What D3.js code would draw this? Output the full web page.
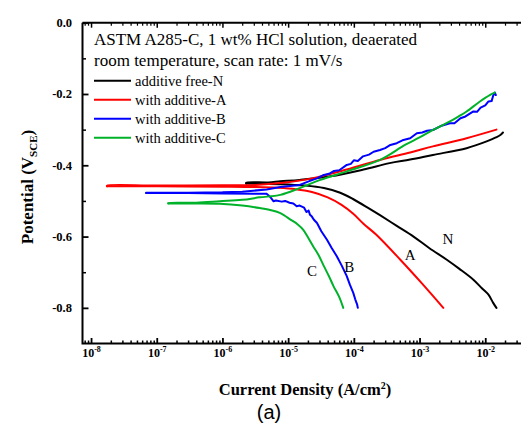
<!DOCTYPE html>
<html><head><meta charset="utf-8">
<script src="https://cdn.jsdelivr.net/npm/d3@7"></script>
<style>
html,body{margin:0;padding:0;background:#fff;}
svg{display:block;}
</style></head>
<body>
<svg id="chart" width="521" height="423"></svg>
<script>
// ---- data (current density in A/cm2, potential in V vs SCE) ----
const seriesNames = ["additive free-N", "with additive-A", "with additive-B", "with additive-C"];
const seriesColors = ["#000000", "#ff0000", "#0000ff", "#00b22a"];
const seriesSmooth = [true, true, false, true];
const curveLabels = ["N", "A", "B", "C"];
const labelCurrent = [2.7e-3, 7.2e-4, 8.5e-5, 2.3e-5];
const labelPotential = [-0.606, -0.653, -0.685, -0.696];

const nCurrent = [1.48e-2,1.32e-2,1.12e-2,8.9e-3,6.6e-3,4.0e-3,2.6e-3,1.4e-3,8.1e-4,4.5e-4,2.5e-4,1.6e-4,1.0e-4,6.2e-5,3.5e-5,1.8e-5,8.0e-6,4.0e-6,2.3e-6,
  2.3e-6,5.0e-6,7.6e-6,1.5e-5,4.4e-5,1.4e-4,3.5e-4,7.2e-4,1.6e-3,5.2e-3,1.05e-2,1.45e-2,1.7e-2,1.86e-2];
const nPotential = [-0.800,-0.786,-0.763,-0.745,-0.721,-0.690,-0.665,-0.632,-0.600,-0.570,-0.540,-0.518,-0.496,-0.477,-0.464,-0.457,-0.453,-0.452,-0.451,
  -0.449,-0.448,-0.445,-0.441,-0.431,-0.412,-0.394,-0.384,-0.371,-0.352,-0.333,-0.322,-0.315,-0.308];

const aCurrent = [2.3e-3,1.07e-3,5.1e-4,2.2e-4,1.4e-4,9.8e-5,6.5e-5,4.0e-5,2.3e-5,1.3e-5,7.0e-6,3.2e-6,1.0e-6,1.0e-7,1.75e-8,
  1.75e-8,1.0e-7,1.0e-6,3.2e-6,7.6e-6,2.4e-5,7.8e-5,2.5e-4,7.2e-4,1.6e-3,5.2e-3,1.48e-2];
const aPotential = [-0.800,-0.730,-0.665,-0.595,-0.564,-0.536,-0.511,-0.490,-0.475,-0.467,-0.463,-0.461,-0.460,-0.459,-0.459,
  -0.457,-0.457,-0.456,-0.455,-0.450,-0.436,-0.412,-0.385,-0.364,-0.347,-0.324,-0.300];

const bCurrent = [1.15e-4,1.12e-4,1.05e-4,9.8e-5,8.7e-5,7.8e-5,6.6e-5,5.5e-5,4.6e-5,3.9e-5,3.2e-5,2.75e-5,2.45e-5,2.3e-5,2.15e-5,2.05e-5,1.9e-5,1.75e-5,1.5e-5,1.35e-5,1.2e-5,1.05e-5,9.0e-6,8.0e-6,6.5e-6,6.0e-6,5.3e-6,4.7e-6,3.0e-6,1.0e-6,3.0e-7,6.9e-8,
  6.9e-8,3.0e-7,1.0e-6,2.0e-6,4.7e-6,7.6e-6,1.5e-5,2.2e-5,2.8e-5,3.5e-5,4.2e-5,5.0e-5,6.0e-5,7.8e-5,9.0e-5,1.0e-4,1.15e-4,1.38e-4,1.7e-4,2.0e-4,2.5e-4,3.0e-4,3.6e-4,4.5e-4,5.5e-4,7.2e-4,9.1e-4,1.1e-3,1.3e-3,1.6e-3,2.1e-3,2.9e-3,3.4e-3,4.2e-3,5.0e-3,6.6e-3,7.5e-3,8.5e-3,1.0e-2,1.12e-2,1.25e-2,1.32e-2,1.4e-2,1.45e-2];
const bPotential = [-0.800,-0.790,-0.776,-0.758,-0.735,-0.711,-0.683,-0.655,-0.632,-0.609,-0.585,-0.562,-0.552,-0.544,-0.539,-0.527,-0.531,-0.519,-0.513,-0.515,-0.507,-0.505,-0.500,-0.502,-0.499,-0.501,-0.488,-0.480,-0.480,-0.479,-0.478,-0.478,
  -0.477,-0.477,-0.476,-0.474,-0.468,-0.461,-0.455,-0.443,-0.436,-0.427,-0.424,-0.416,-0.414,-0.399,-0.396,-0.386,-0.388,-0.375,-0.370,-0.362,-0.357,-0.352,-0.343,-0.338,-0.330,-0.324,-0.310,-0.308,-0.303,-0.301,-0.290,-0.282,-0.282,-0.268,-0.263,-0.249,-0.250,-0.238,-0.232,-0.221,-0.220,-0.205,-0.196,-0.203];

const cCurrent = [6.9e-5,6.0e-5,4.9e-5,4.2e-5,3.5e-5,2.9e-5,2.4e-5,2.0e-5,1.7e-5,1.4e-5,1.1e-5,7.6e-6,5.5e-6,3.7e-6,2.0e-6,9.1e-7,4.0e-7,1.5e-7,
  1.5e-7,4.0e-7,9.1e-7,2.0e-6,3.7e-6,7.6e-6,1.5e-5,3.1e-5,7.8e-5,2.5e-4,6.0e-4,1.0e-3,1.6e-3,2.9e-3,4.0e-3,5.2e-3,8.3e-3,1.17e-2,1.4e-2];
const cPotential = [-0.800,-0.770,-0.739,-0.712,-0.683,-0.652,-0.627,-0.602,-0.581,-0.566,-0.553,-0.534,-0.526,-0.520,-0.513,-0.508,-0.507,-0.507,
  -0.506,-0.505,-0.501,-0.497,-0.490,-0.483,-0.464,-0.441,-0.417,-0.385,-0.343,-0.322,-0.301,-0.277,-0.262,-0.249,-0.221,-0.203,-0.196];

const seriesCurrent = [nCurrent, aCurrent, bCurrent, cCurrent];
const seriesPotential = [nPotential, aPotential, bPotential, cPotential];

const xMajorTicks = [1e-8,1e-7,1e-6,1e-5,1e-4,1e-3,1e-2];
const xTickExponents = ["-8","-7","-6","-5","-4","-3","-2"];
const yMajorTicks = [0.0,-0.2,-0.4,-0.6,-0.8];
const yTickLabels = ["0.0","-0.2","-0.4","-0.6","-0.8"];
const yMinorTicks = [-0.1,-0.3,-0.5,-0.7];
const titleLines = ["ASTM A285-C, 1 wt% HCl solution, deaerated", "room temperature, scan rate: 1 mV/s"];

// ---- drawing ----
(function(){
const svg = d3.select("#chart");
const serif = "'Liberation Serif','Times New Roman',serif";
const pLeft = 82.5, pTop = 22.7, pBottom = 343.5;
const x = d3.scaleLog().domain([Math.pow(10,-8.13), Math.pow(10,-1.1)]).range([pLeft, pLeft + 7.03*65.7]);
const y = d3.scaleLinear().domain([-0.9, 0]).range([pBottom, pTop]);

const xMinor = [];
for (let e=-9; e<=-2; e++) for (let k=2;k<=9;k++){ const v=k*Math.pow(10,e); if (v>=x.domain()[0] && x(v)<530) xMinor.push(v);}

// curves: cathodic and anodic branches (split at the minimum current)
seriesCurrent.forEach((cur,i)=>{
  const pts = cur.map((c,j)=>[c, seriesPotential[i][j]]);
  const k = d3.minIndex(cur);
  const line = d3.line().x(d=>x(d[0])).y(d=>y(d[1]))
    .curve(seriesSmooth[i] ? d3.curveCatmullRom.alpha(0.5) : d3.curveLinear);
  [pts.slice(0, k+1), pts.slice(k)].forEach(branch=>{
    svg.append("path").attr("d", line(branch)).attr("fill","none")
      .attr("stroke", seriesColors[i]).attr("stroke-width", 2).attr("stroke-linejoin","round").attr("stroke-linecap","round");
  });
});

// axes
function strip(g){ g.select(".domain").remove(); }
svg.append("g").attr("transform",`translate(0,${pBottom})`)
  .call(d3.axisBottom(x).tickValues(xMinor).tickSize(-3).tickFormat(""))
  .call(strip).selectAll("line").attr("stroke","#000").attr("stroke-width",1.5);
const xg = svg.append("g").attr("transform",`translate(0,${pBottom})`)
  .call(d3.axisBottom(x).tickValues(xMajorTicks).tickSize(-5.5).tickFormat(""))
  .call(strip);
xg.selectAll("line").attr("stroke","#000").attr("stroke-width",1.8);
xg.selectAll("text").remove();
xg.selectAll(".tick").each(function(d,i){
  const t = d3.select(this).append("text").attr("y", 13).attr("fill","#000")
    .attr("font-family", serif).attr("font-weight","bold").attr("font-size", 12).attr("text-anchor","middle");
  t.append("tspan").text("10");
  t.append("tspan").attr("dy",-5).attr("font-size",8).text(xTickExponents[i]);
});
// top mirrored ticks
svg.append("g").attr("transform",`translate(0,${pTop})`)
  .call(d3.axisTop(x).tickValues(xMinor).tickSize(-3).tickFormat(""))
  .call(strip).selectAll("line").attr("stroke","#000").attr("stroke-width",1.2);
svg.append("g").attr("transform",`translate(0,${pTop})`)
  .call(d3.axisTop(x).tickValues(xMajorTicks).tickSize(-5).tickFormat(""))
  .call(strip).selectAll("line").attr("stroke","#000").attr("stroke-width",1.5);

const yg = svg.append("g").attr("transform",`translate(${pLeft},0)`)
  .call(d3.axisLeft(y).tickValues(yMajorTicks).tickSize(-6).tickPadding(10.5).tickFormat((d,i)=>yTickLabels[i]))
  .call(strip);
yg.selectAll("line").attr("stroke","#000").attr("stroke-width",1.8);
yg.selectAll("text").attr("font-family",serif).attr("font-weight","bold").attr("font-size",12.5).attr("fill","#000");
svg.append("g").attr("transform",`translate(${pLeft},0)`)
  .call(d3.axisLeft(y).tickValues(yMinorTicks).tickSize(-3.5).tickFormat(""))
  .call(strip).selectAll("line").attr("stroke","#000").attr("stroke-width",1.5);

// frame
svg.append("path").attr("d", `M${pLeft},${pTop} L${pLeft},${pBottom} L530,${pBottom}`)
  .attr("fill","none").attr("stroke","#000").attr("stroke-width",2);
svg.append("line").attr("x1",pLeft).attr("x2",530).attr("y1",pTop).attr("y2",pTop)
  .attr("stroke","#000").attr("stroke-width",2);

// axis titles
const yt = svg.append("text").attr("transform",`translate(33,187) rotate(-90)`)
  .attr("text-anchor","middle").attr("font-family",serif).attr("font-weight","bold").attr("font-size",17).attr("fill","#000");
yt.append("tspan").text("Potential (V");
yt.append("tspan").attr("dy",4).attr("font-size",11).text("SCE");
yt.append("tspan").attr("dy",-4).text(")");

const xt = svg.append("text").attr("x",305).attr("y",395)
  .attr("text-anchor","middle").attr("font-family",serif).attr("font-weight","bold").attr("font-size",16.5).attr("fill","#000");
xt.append("tspan").text("Current Density (A/cm");
xt.append("tspan").attr("dy",-6).attr("font-size",10).text("2");
xt.append("tspan").attr("dy",6).text(")");

svg.append("text").attr("x",269).attr("y",419).attr("text-anchor","middle")
  .attr("font-family","'Liberation Sans',Arial,sans-serif").attr("font-size",20).attr("fill","#000").text("(a)");

// title & legend
titleLines.forEach((t,i)=>{
  svg.append("text").attr("x",94).attr("y",45 + i*20.5).attr("font-family",serif).attr("font-size",17).attr("fill","#000").text(t);
});
seriesNames.forEach((n,i)=>{
  const ly = 80.7 + i*19;
  svg.append("line").attr("x1",94).attr("x2",131).attr("y1",ly).attr("y2",ly)
    .attr("stroke",seriesColors[i]).attr("stroke-width",2);
  svg.append("text").attr("x",135).attr("y",ly+5).attr("font-family",serif).attr("font-size",14.5).attr("fill","#000").text(n);
});

// curve labels
curveLabels.forEach((l,i)=>{
  svg.append("text").attr("x",x(labelCurrent[i])).attr("y",y(labelPotential[i])+5)
    .attr("text-anchor","middle").attr("font-family",serif).attr("font-size",15).attr("fill","#000").text(l);
});
})();
</script>
</body></html>
